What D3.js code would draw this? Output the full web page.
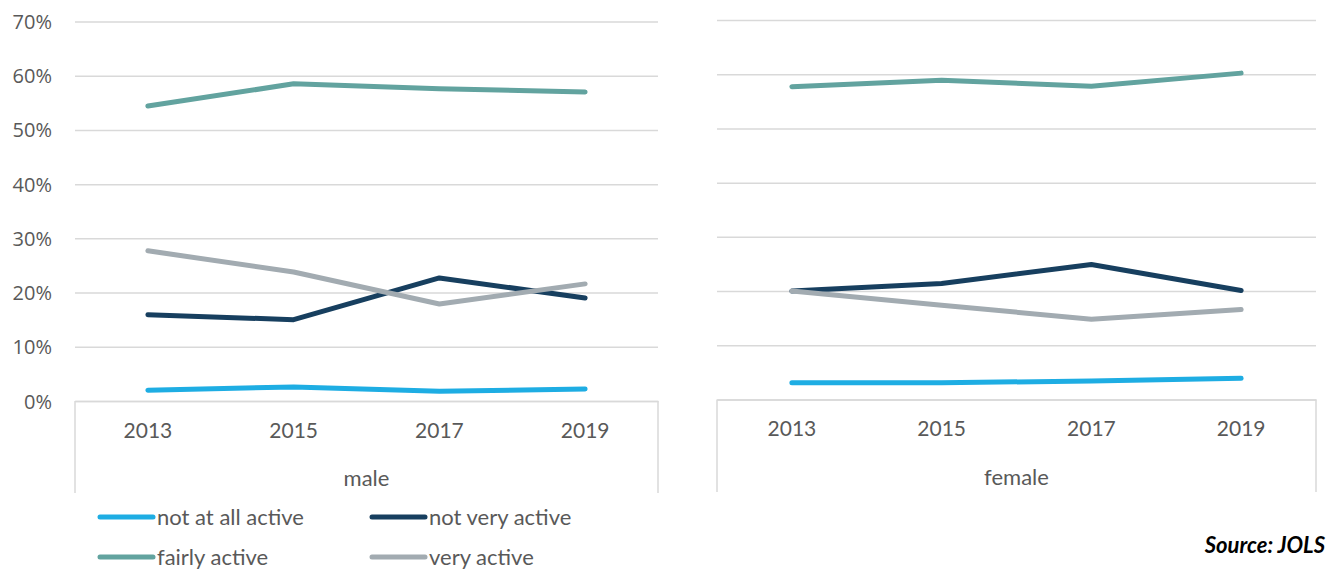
<!DOCTYPE html>
<html>
<head>
<meta charset="utf-8">
<script src="https://cdn.jsdelivr.net/npm/d3@7"></script>
<style>
  html, body { margin: 0; padding: 0; background: #fff; }
  svg { display: block; }
  .txt { font-family: Lato, "Open Sans", sans-serif; fill: #595959; }
</style>
</head>
<body>
<svg id="chart" width="1328" height="571"></svg>
<script>
// ---- data ----
const years = ["2013", "2015", "2017", "2019"];
const groups = ["male", "female"];
const seriesNames = ["not at all active", "not very active", "fairly active", "very active"];
const seriesColors = ["#1EADE3", "#173F5F", "#62A39F", "#A2ABB1"];
const yTicks = [0, 0.1, 0.2, 0.3, 0.4, 0.5, 0.6, 0.7];

const maleNotAtAll   = [0.020, 0.026, 0.018, 0.022];
const maleNotVery    = [0.159, 0.150, 0.227, 0.190];
const maleFairly     = [0.544, 0.585, 0.576, 0.570];
const maleVery       = [0.277, 0.238, 0.179, 0.216];

const femaleNotAtAll = [0.031, 0.031, 0.034, 0.039];
const femaleNotVery  = [0.200, 0.214, 0.249, 0.201];
const femaleFairly   = [0.577, 0.589, 0.578, 0.602];
const femaleVery     = [0.200, 0.174, 0.148, 0.166];

const panelData = {
  male:   [maleNotAtAll, maleNotVery, maleFairly, maleVery],
  female: [femaleNotAtAll, femaleNotVery, femaleFairly, femaleVery]
};

// ---- layout ----
const svg = d3.select("#chart");
const panels = [
  { name: "male",   x0: 75,  x1: 658,  yBottom: 401,   yTop: 21.5, boxBottom: 493, showY: true },
  { name: "female", x0: 717, x1: 1316, yBottom: 399.5, yTop: 20,   boxBottom: 492, showY: false }
];
const gridColor = "#D9D9D9";

panels.forEach(p => {
  const x = d3.scaleBand().domain(years).range([p.x0, p.x1]);
  const y = d3.scaleLinear().domain([0, 0.7]).range([p.yBottom, p.yTop]);
  const g = svg.append("g");

  const yAxis = d3.axisLeft(y).tickValues(yTicks)
    .tickSize(-(p.x1 - p.x0)).tickFormat(d3.format(".0%")).tickPadding(23);
  const ya = g.append("g").attr("transform", `translate(${p.x0},0)`).call(yAxis);
  ya.select(".domain").remove();
  ya.selectAll(".tick line").attr("stroke", gridColor).attr("stroke-width", 1.5);
  ya.selectAll(".tick text")
    .attr("class", "txt")
    .style("font-family", "'Open Sans', sans-serif")
    .style("font-size", "20px")
    .attr("fill", "#595959")
    .attr("dy", "0.35em");
  if (!p.showY) ya.selectAll(".tick text").remove();

  g.append("line").attr("x1", p.x0).attr("x2", p.x0).attr("y1", p.yBottom).attr("y2", p.boxBottom)
    .attr("stroke", gridColor).attr("stroke-width", 1.5);
  g.append("line").attr("x1", p.x1).attr("x2", p.x1).attr("y1", p.yBottom).attr("y2", p.boxBottom)
    .attr("stroke", gridColor).attr("stroke-width", 1.5);

  const xAxis = d3.axisBottom(x).tickSize(0).tickPadding(22);
  const xa = g.append("g").attr("transform", `translate(0,${p.yBottom})`).call(xAxis);
  xa.select(".domain").attr("stroke", gridColor).attr("stroke-width", 1.5);
  xa.selectAll(".tick text")
    .attr("class", "txt")
    .style("font-family", "Lato, sans-serif")
    .style("font-size", "21px")
    .attr("fill", "#595959");

  g.append("text").attr("class", "txt")
    .attr("x", (p.x0 + p.x1) / 2).attr("y", p.yBottom + 85)
    .attr("text-anchor", "middle")
    .style("font-size", "22px")
    .text(p.name);

  const line = d3.line()
    .x((d, i) => x(years[i]) + x.bandwidth() / 2)
    .y(d => y(d));
  panelData[p.name].forEach((vals, si) => {
    g.append("path")
      .datum(vals)
      .attr("d", line)
      .attr("fill", "none")
      .attr("stroke", seriesColors[si])
      .attr("stroke-width", 5)
      .attr("stroke-linecap", "round")
      .attr("stroke-linejoin", "round");
  });
});

// legend
const legendPos = [
  { x: 98, y: 517 }, { x: 370, y: 517 },
  { x: 98, y: 557 }, { x: 370, y: 557 }
];
const lg = svg.append("g");
seriesNames.forEach((name, i) => {
  const pos = legendPos[i];
  lg.append("line").attr("x1", pos.x + 2).attr("x2", pos.x + 55)
    .attr("y1", pos.y).attr("y2", pos.y)
    .attr("stroke", seriesColors[i]).attr("stroke-width", 5).attr("stroke-linecap", "round");
  lg.append("text").attr("class", "txt")
    .attr("x", pos.x + 59).attr("y", pos.y).attr("dy", "0.35em")
    .style("font-size", "22px")
    .text(name);
});

// source
svg.append("text")
  .attr("x", 1325).attr("y", 545).attr("dy", "0.35em")
  .attr("text-anchor", "end")
  .style("font-family", "Lato, sans-serif")
  .style("font-size", "22px")
  .style("font-weight", "bold")
  .style("font-style", "italic")
  .attr("fill", "#000")
  .text("Source: JOLS");
</script>
</body>
</html>
